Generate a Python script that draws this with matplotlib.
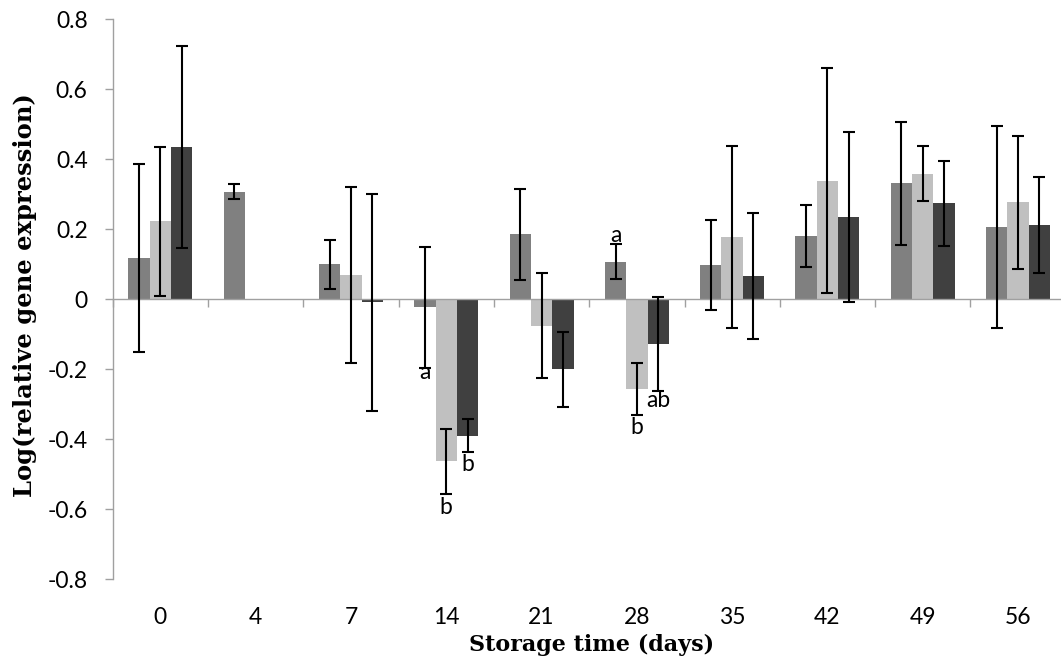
import numpy as np
import matplotlib.pyplot as plt
from matplotlib.ticker import FixedLocator

# ---------- data ----------
days = ["0", "4", "7", "14", "21", "28", "35", "42", "49", "56"]

s1 = [0.117, 0.307, 0.100, -0.024, 0.185, 0.107, 0.098, 0.180, 0.331, 0.206]
s1_err = [0.268, 0.021, 0.070, 0.174, 0.130, 0.051, 0.129, 0.088, 0.176, 0.288]

s2 = [0.222, np.nan, 0.069, -0.464, -0.077, -0.257, 0.177, 0.338, 0.358, 0.276]
s2_err = [0.213, np.nan, 0.252, 0.094, 0.150, 0.075, 0.260, 0.321, 0.079, 0.190]

s3 = [0.434, np.nan, -0.009, -0.390, -0.201, -0.128, 0.066, 0.234, 0.273, 0.212]
s3_err = [0.288, np.nan, 0.310, 0.048, 0.108, 0.135, 0.179, 0.242, 0.122, 0.138]

# significance letters: (day index, series index, letter, y)
letters = [
    (3, 0, "a", -0.211),
    (3, 1, "b", -0.596),
    (3, 2, "b", -0.473),
    (5, 0, "a", 0.181),
    (5, 1, "b", -0.367),
    (5, 2, "ab", -0.290),
]

series = [s1, s2, s3]
errors = [s1_err, s2_err, s3_err]
colors = ["#808080", "#c0c0c0", "#404040"]

# ---------- plot ----------
plt.rcParams["axes.unicode_minus"] = False

W, H = 1061, 668
fig = plt.figure(figsize=(W / 100, H / 100), dpi=100)
ax = fig.add_axes([112.7 / W, 89 / H, 953 / W, 560 / H])

x = np.arange(len(days))
bw = 0.2236
for i, (vals, errs, c) in enumerate(zip(series, errors, colors)):
    pos = x + (i - 1) * bw
    ax.bar(pos, vals, width=bw, color=c, zorder=1)
    ax.errorbar(pos, vals, yerr=errs, fmt="none", ecolor="black",
                elinewidth=1.5, capsize=4, capthick=1.5, zorder=4)

tick_font = dict(family="Lato", size=16.5, color="black")
for d, s, txt, y in letters:
    ax.text(x[d] + (s - 1) * bw, y, txt, ha="center", va="center",
            zorder=5, **tick_font)

ax.set_xlim(-0.5, len(days) - 0.5)
ax.set_ylim(-0.8, 0.8)

axis_gray = "#a0a0a0"
for side in ["top", "right"]:
    ax.spines[side].set_visible(False)
ax.spines["left"].set_color(axis_gray)
ax.spines["bottom"].set_color(axis_gray)
ax.spines["left"].set_linewidth(1.0)
ax.spines["bottom"].set_linewidth(1.0)
ax.spines["bottom"].set_position(("data", 0))
ax.spines["bottom"].set_zorder(3)

yt = np.arange(-0.8, 0.81, 0.2)
ax.set_yticks(yt)
ax.set_yticklabels(["0" if abs(v) < 1e-9 else f"{v:.1f}" for v in yt],
                   fontfamily="Lato", fontsize=16.5)
ax.tick_params(axis="y", direction="out", length=6, width=1.0, color=axis_gray, pad=12)

ax.set_xticks(x)
ax.set_xticklabels(days, fontfamily="Lato", fontsize=16.5)
ax.tick_params(axis="x", which="major", length=0, pad=222)
ax.xaxis.set_minor_locator(FixedLocator(np.arange(-0.5, len(days), 1.0)))
ax.tick_params(axis="x", which="minor", direction="out", length=5.5, width=1.0, color=axis_gray)

fig.text(592 / W, 1 - 651 / H, "Storage time (days)", ha="center", va="baseline",
         family="DejaVu Serif", weight="bold", size=16)
fig.text(25 / W, 1 - 295 / H, "Log(relative gene expression)", rotation=90,
         ha="center", va="center", family="DejaVu Serif", weight="bold", size=17.5)

fig.savefig("out.png", dpi=100)
